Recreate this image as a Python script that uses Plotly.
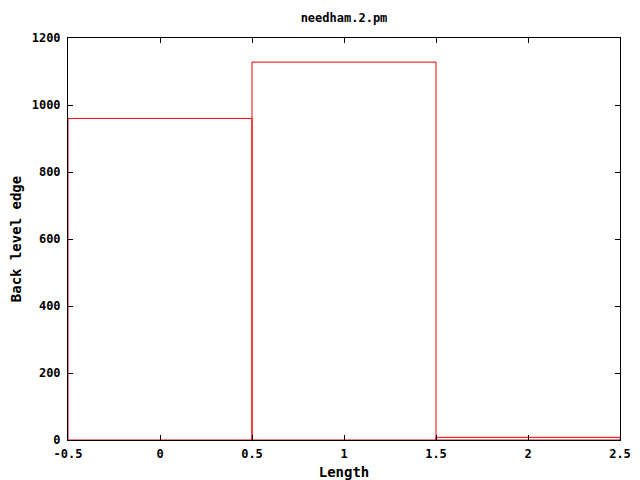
import plotly.graph_objects as go

categories = [0, 1, 2]
values = [960, 1128, 8]
box_width = 1.0
x_ticks = [-0.5, 0, 0.5, 1, 1.5, 2, 2.5]
x_tick_labels = ["-0.5", "0", "0.5", "1", "1.5", "2", "2.5"]
y_ticks = [0, 200, 400, 600, 800, 1000, 1200]

# gnuplot "boxes" style: each box outlined as a closed rectangle
bx, by = [], []
for c, v in zip(categories, values):
    lo, hi = c - box_width / 2, c + box_width / 2
    bx += [lo, lo, hi, hi, lo, None]
    by += [0, v, v, 0, 0, None]

fnt = "DejaVu Sans Mono"

fig = go.Figure()
fig.add_trace(go.Scatter(
    x=bx, y=by, mode="lines",
    line=dict(color="#ee0000", width=1),
    showlegend=False, hoverinfo="skip", cliponaxis=True,
))

fig.update_layout(
    width=632, height=472,
    margin=dict(l=60, r=20, t=30, b=40),
    paper_bgcolor="white", plot_bgcolor="white",
    font=dict(family=fnt, size=12, color="black"),
    title=dict(text="<b>needham.2.pm</b>", x=0.5, xanchor="center", xref="paper",
               y=1 - 10 / 472, yanchor="middle",
               font=dict(family=fnt, size=12)),
)
fig.update_xaxes(
    range=[-0.5, 2.5], tickvals=x_ticks,
    ticktext=["<b>%s</b>" % t for t in x_tick_labels],
    ticks="inside", ticklen=5, tickcolor="black", mirror="allticks",
    ticklabelstandoff=3, automargin=False, layer="above traces",
    showline=True, linecolor="black", linewidth=1, showgrid=False, zeroline=False,
    title=dict(text="<b>Length</b>", standoff=6),
)
fig.update_yaxes(
    range=[0, 1200], tickvals=y_ticks,
    ticktext=["<b>%d</b>" % t for t in y_ticks],
    ticks="inside", ticklen=5, tickcolor="black", mirror="allticks",
    ticklabelstandoff=4, automargin=False, layer="above traces",
    showline=True, linecolor="black", linewidth=1, showgrid=False, zeroline=False,
    title=dict(text="<b>Back level edge</b>", standoff=10),
)

fig.write_html("out.html")
